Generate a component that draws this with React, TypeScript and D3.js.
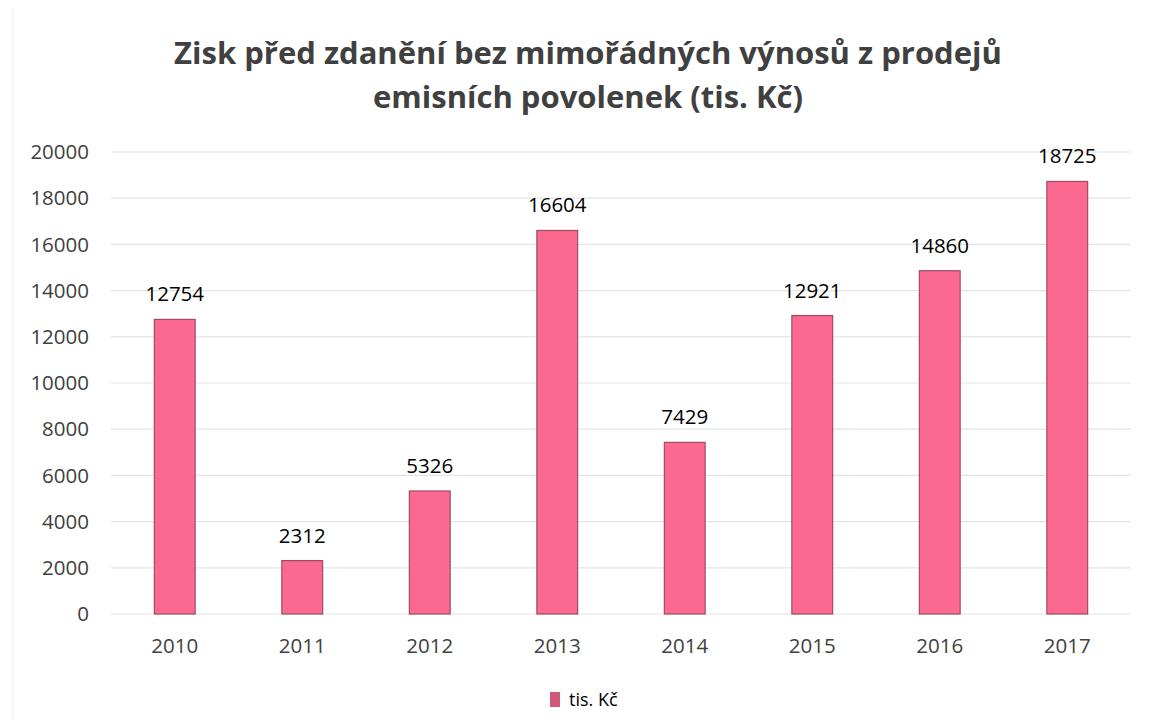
import React, { useEffect, useRef } from 'react';
import * as d3 from 'd3';

const years = ['2010', '2011', '2012', '2013', '2014', '2015', '2016', '2017'];
const values = [12754, 2312, 5326, 16604, 7429, 12921, 14860, 18725];
const yTicks = [0, 2000, 4000, 6000, 8000, 10000, 12000, 14000, 16000, 18000, 20000];
const titleLines = ['Zisk před zdanění bez mimořádných výnosů z prodejů', 'emisních povolenek (tis. Kč)'];
const seriesName = 'tis. Kč';

const App = () => {
    const ref = useRef<SVGSVGElement>(null);

    useEffect(() => {
        const width = 1155;
        const height = 728;
        const font = '"Open Sans", sans-serif';
        const svg = d3.select(ref.current);
        svg.selectAll('*').remove();

        svg.append('rect')
            .attr('x', 13).attr('y', -2)
            .attr('width', width - 10).attr('height', height + 4)
            .attr('fill', '#fff')
            .attr('stroke', '#ededed');

        const x = d3.scaleBand()
            .domain(years)
            .range([111, 1131])
            .paddingInner(0.68)
            .paddingOuter(0.34);

        const y = d3.scaleLinear()
            .domain([0, 20000])
            .range([614, 152]);

        // title
        svg.append('g')
            .selectAll('text')
            .data(titleLines)
            .enter().append('text')
            .attr('x', 588)
            .attr('y', (d, i) => 64 + i * 44)
            .attr('text-anchor', 'middle')
            .style('font-family', font)
            .style('font-weight', 700)
            .style('font-size', '31px')
            .attr('fill', '#404040')
            .text(d => d);

        // grid
        svg.append('g')
            .selectAll('line')
            .data(yTicks)
            .enter().append('line')
            .attr('x1', 111).attr('x2', 1131)
            .attr('y1', d => y(d)).attr('y2', d => y(d))
            .attr('stroke', '#e4e4e4')
            .attr('stroke-width', 1.2);

        // y labels
        svg.append('g')
            .selectAll('text')
            .data(yTicks)
            .enter().append('text')
            .attr('x', 89)
            .attr('y', d => y(d))
            .attr('dy', '0.35em')
            .attr('text-anchor', 'end')
            .style('font-family', font)
            .style('font-size', '20.5px')
            .attr('fill', '#404040')
            .text(d => d);

        // bars
        svg.append('g')
            .selectAll('rect')
            .data(values)
            .enter().append('rect')
            .attr('x', (d, i) => x(years[i]) as number)
            .attr('width', x.bandwidth())
            .attr('y', d => y(d))
            .attr('height', d => y(0) - y(d))
            .attr('fill', '#fb6890')
            .attr('stroke', '#a24a63')
            .attr('stroke-width', 1.2);

        // data labels
        svg.append('g')
            .selectAll('text')
            .data(values)
            .enter().append('text')
            .attr('x', (d, i) => (x(years[i]) as number) + x.bandwidth() / 2)
            .attr('y', d => y(d) - 18)
            .attr('text-anchor', 'middle')
            .style('font-family', font)
            .style('font-size', '20.5px')
            .style('font-weight', 500)
            .attr('fill', '#000')
            .text(d => d);

        // x labels
        svg.append('g')
            .selectAll('text')
            .data(years)
            .enter().append('text')
            .attr('x', d => (x(d) as number) + x.bandwidth() / 2)
            .attr('y', 646)
            .attr('dy', '0.35em')
            .attr('text-anchor', 'middle')
            .style('font-family', font)
            .style('font-size', '20.5px')
            .attr('fill', '#404040')
            .text(d => d);

        // legend
        const legend = svg.append('g');
        legend.append('rect')
            .attr('x', 550).attr('y', 692)
            .attr('width', 10).attr('height', 15)
            .attr('fill', '#d05878');
        legend.append('text')
            .attr('x', 569).attr('y', 700)
            .attr('dy', '0.35em')
            .style('font-family', font)
            .style('font-size', '18px')
            .attr('fill', '#000')
            .text(seriesName);
    }, []);

    return (
        <svg ref={ref} width={1155} height={728} style={{ display: 'block', margin: '-8px' }}></svg>
    );
};

export default App;
